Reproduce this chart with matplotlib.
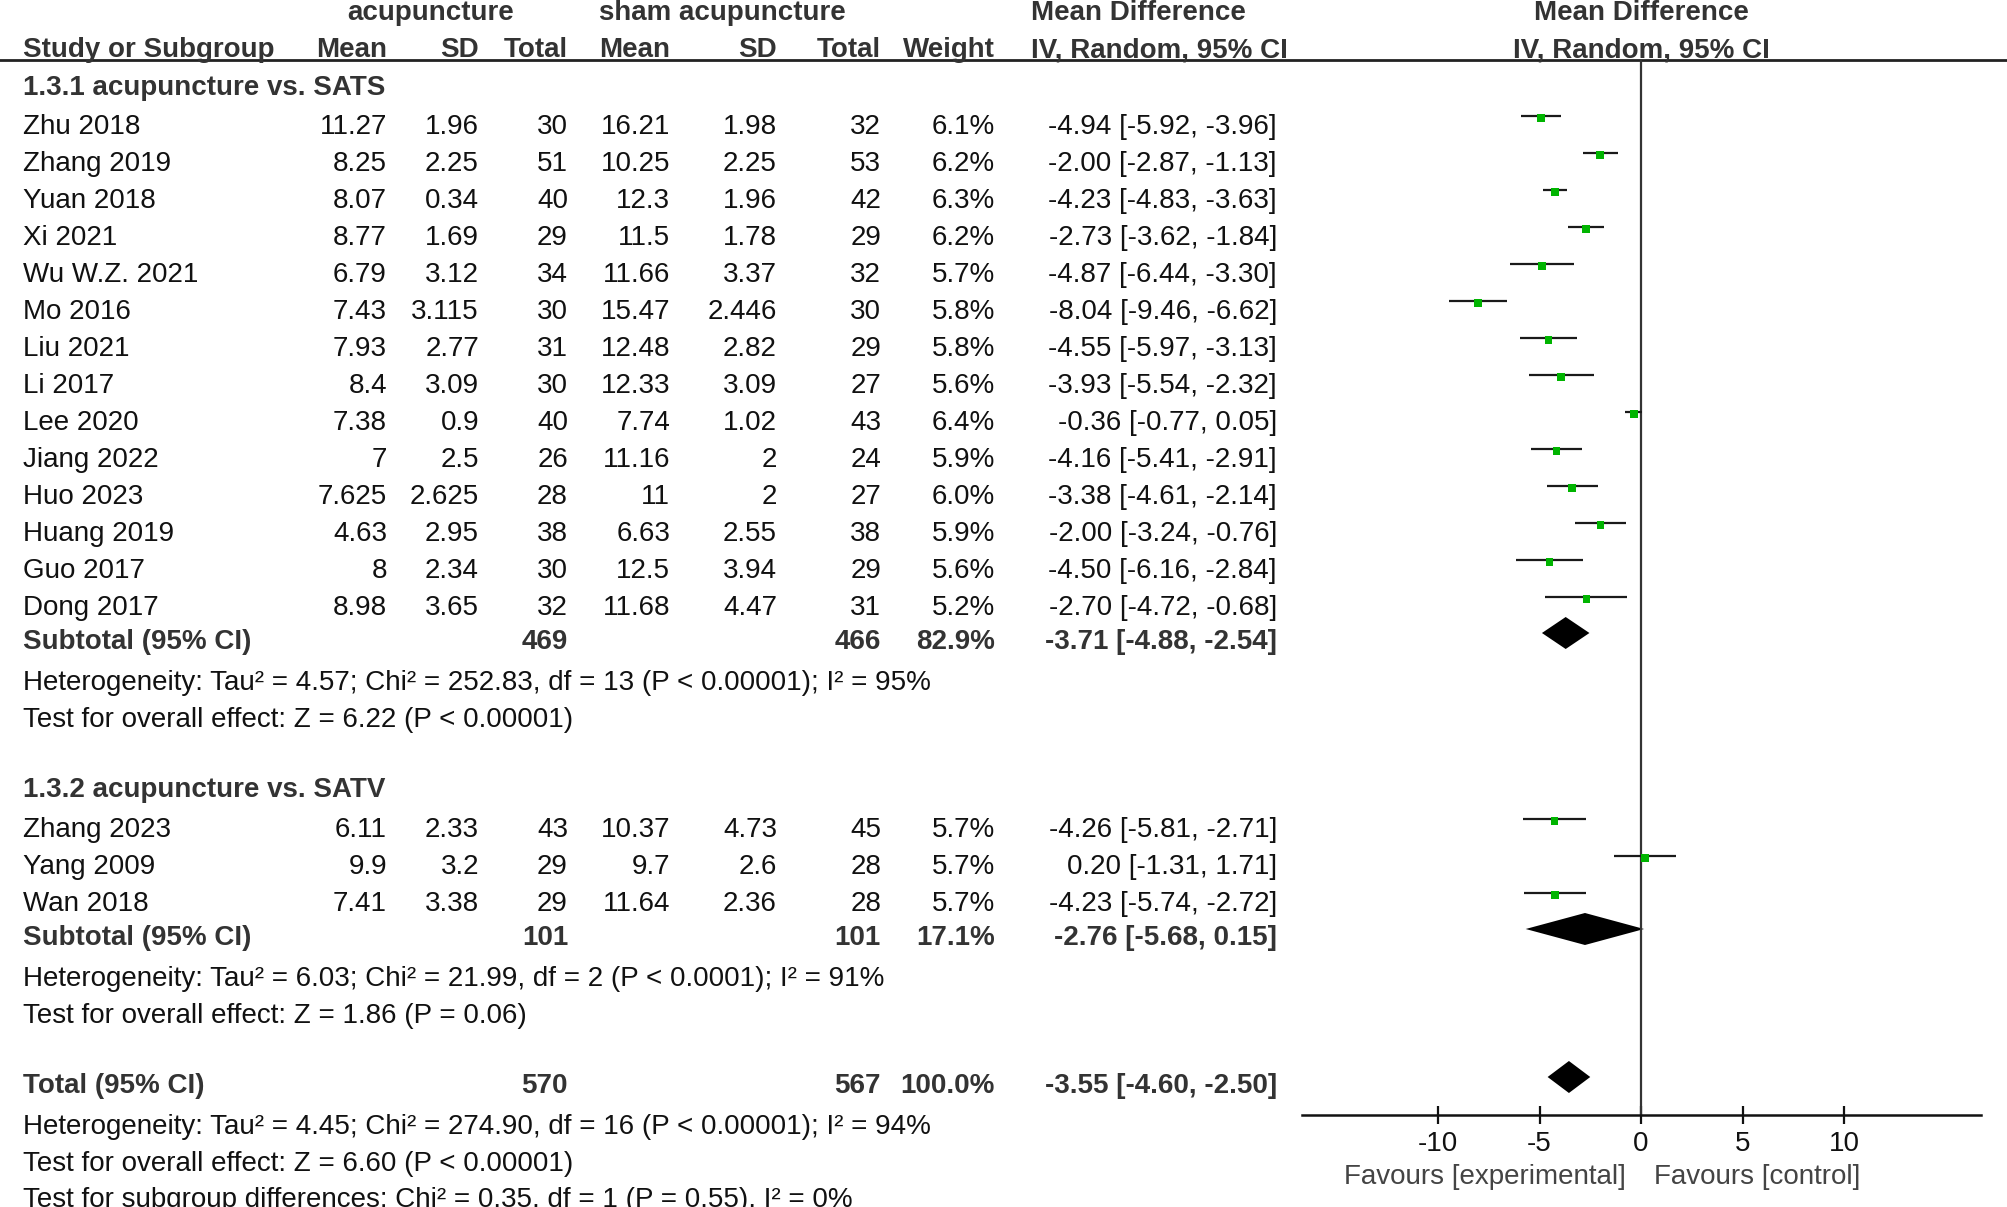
import matplotlib
matplotlib.use('Agg')
import matplotlib.pyplot as plt
from matplotlib.patches import Polygon

plt.rcParams['font.family'] = ['Liberation Sans', 'DejaVu Sans']
plt.rcParams['axes.unicode_minus'] = False

# subgroup 1.3.1 acupuncture vs. SATS
studies_a = ["Zhu 2018", "Zhang 2019", "Yuan 2018", "Xi 2021", "Wu W.Z. 2021", "Mo 2016", "Liu 2021",
             "Li 2017", "Lee 2020", "Jiang 2022", "Huo 2023", "Huang 2019", "Guo 2017", "Dong 2017"]
exp_mean_a = [11.27, 8.25, 8.07, 8.77, 6.79, 7.43, 7.93, 8.4, 7.38, 7, 7.625, 4.63, 8, 8.98]
exp_sd_a = [1.96, 2.25, 0.34, 1.69, 3.12, 3.115, 2.77, 3.09, 0.9, 2.5, 2.625, 2.95, 2.34, 3.65]
exp_n_a = [30, 51, 40, 29, 34, 30, 31, 30, 40, 26, 28, 38, 30, 32]
ctl_mean_a = [16.21, 10.25, 12.3, 11.5, 11.66, 15.47, 12.48, 12.33, 7.74, 11.16, 11, 6.63, 12.5, 11.68]
ctl_sd_a = [1.98, 2.25, 1.96, 1.78, 3.37, 2.446, 2.82, 3.09, 1.02, 2, 2, 2.55, 3.94, 4.47]
ctl_n_a = [32, 53, 42, 29, 32, 30, 29, 27, 43, 24, 27, 38, 29, 31]
weight_a = [6.1, 6.2, 6.3, 6.2, 5.7, 5.8, 5.8, 5.6, 6.4, 5.9, 6.0, 5.9, 5.6, 5.2]
md_a = [-4.94, -2.00, -4.23, -2.73, -4.87, -8.04, -4.55, -3.93, -0.36, -4.16, -3.38, -2.00, -4.50, -2.70]
lo_a = [-5.92, -2.87, -4.83, -3.62, -6.44, -9.46, -5.97, -5.54, -0.77, -5.41, -4.61, -3.24, -6.16, -4.72]
hi_a = [-3.96, -1.13, -3.63, -1.84, -3.30, -6.62, -3.13, -2.32, 0.05, -2.91, -2.14, -0.76, -2.84, -0.68]
sub_a = {"n_exp": 469, "n_ctl": 466, "weight": 82.9, "md": -3.71, "lo": -4.88, "hi": -2.54}
het_a = "Heterogeneity: Tau² = 4.57; Chi² = 252.83, df = 13 (P < 0.00001); I² = 95%"
eff_a = "Test for overall effect: Z = 6.22 (P < 0.00001)"

# subgroup 1.3.2 acupuncture vs. SATV
studies_b = ["Zhang 2023", "Yang 2009", "Wan 2018"]
exp_mean_b = [6.11, 9.9, 7.41]
exp_sd_b = [2.33, 3.2, 3.38]
exp_n_b = [43, 29, 29]
ctl_mean_b = [10.37, 9.7, 11.64]
ctl_sd_b = [4.73, 2.6, 2.36]
ctl_n_b = [45, 28, 28]
weight_b = [5.7, 5.7, 5.7]
md_b = [-4.26, 0.20, -4.23]
lo_b = [-5.81, -1.31, -5.74]
hi_b = [-2.71, 1.71, -2.72]
sub_b = {"n_exp": 101, "n_ctl": 101, "weight": 17.1, "md": -2.76, "lo": -5.68, "hi": 0.15}
het_b = "Heterogeneity: Tau² = 6.03; Chi² = 21.99, df = 2 (P < 0.0001); I² = 91%"
eff_b = "Test for overall effect: Z = 1.86 (P = 0.06)"

total = {"n_exp": 570, "n_ctl": 567, "weight": 100.0, "md": -3.55, "lo": -4.60, "hi": -2.50}
total_notes = ["Heterogeneity: Tau² = 4.45; Chi² = 274.90, df = 16 (P < 0.00001); I² = 94%",
               "Test for overall effect: Z = 6.60 (P < 0.00001)",
               "Test for subgroup differences: Chi² = 0.35, df = 1 (P = 0.55), I² = 0%"]

ticks = [-10, -5, 0, 5, 10]

# layout (figure pixels, y from top)
W, H = 2007, 1207
FS = 20
TXT = '#111111'
BOLD = '#333333'
col_study = 23
col_r = [387, 479, 568, 670, 777, 881, 995, 1277]
zero_px, unit_px = 1641, 20.3
axis_y, rule_y = 1115, 60
dy = 2  # text nudge
rows_a = [125 + 37 * i for i in range(len(studies_a))]
rows_b = [828 + 37 * i for i in range(len(studies_b))]

fig = plt.figure(figsize=(W / 100, H / 100), dpi=100)
ax = fig.add_axes([0, 0, 1, 1])
ax.set_xlim(0, W)
ax.set_ylim(H, 0)
ax.axis('off')

xmin = (1302 - zero_px) / unit_px
xmax = (1981 - zero_px) / unit_px
fp = fig.add_axes([1302 / W, (H - axis_y) / H, (1981 - 1302) / W, (axis_y - rule_y) / H])
fp.set_xlim(xmin, xmax)
fp.set_ylim(axis_y, rule_y)
fp.patch.set_alpha(0)
for s in ['top', 'left', 'right']:
    fp.spines[s].set_visible(False)
fp.spines['bottom'].set_linewidth(1.8)
fp.spines['bottom'].set_color('#111')
fp.set_yticks([])
fp.set_xticks(ticks)
fp.set_xticklabels([str(t) for t in ticks], fontsize=FS, color=TXT)
fp.tick_params(axis='x', direction='inout', length=13, width=1.6, pad=5, color='#111')
fp.axvline(0, color='#333', lw=1.6)


def txt(x, y, s, ha='left', bold=False, **kw):
    ax.text(x, y + dy, s, ha=ha, va='center', fontsize=FS, color=BOLD if bold else TXT,
            fontweight='bold' if bold else 'normal', **kw)


def fmt_ci(m, l, h):
    return f"{m:.2f} [{l:.2f}, {h:.2f}]"


# header
txt(431, 11, "acupuncture", ha='center', bold=True)
txt(722, 11, "sham acupuncture", ha='center', bold=True)
txt(1031, 11, "Mean Difference", bold=True)
txt(zero_px, 11, "Mean Difference", ha='center', bold=True)
txt(col_study, 48, "Study or Subgroup", bold=True)
for x, s in zip(col_r[:7], ["Mean", "SD", "Total", "Mean", "SD", "Total", "Weight"]):
    txt(x, 48, s, ha='right', bold=True)
txt(1031, 48, "IV, Random, 95% CI", bold=True)
txt(zero_px, 48, "IV, Random, 95% CI", ha='center', bold=True)
ax.axhline(rule_y, color='#222', lw=2)


def study_rows(rows, names, em, es, en, cm, cs, cn, w, md, lo, hi):
    for i, y in enumerate(rows):
        txt(col_study, y, names[i])
        vals = [f"{em[i]:g}", f"{es[i]:g}", str(en[i]), f"{cm[i]:g}", f"{cs[i]:g}", str(cn[i]),
                f"{w[i]:.1f}%", fmt_ci(md[i], lo[i], hi[i])]
        for x, s in zip(col_r, vals):
            txt(x, y, s, ha='right')
    yy = [y - 9 for y in rows]
    fp.hlines(yy, lo, hi, color='#1a1a1a', lw=1.6, clip_on=False)
    fp.scatter(md, [y + 2 for y in yy], s=[(5.6 ** 2) * wi / 6.0 for wi in w], marker='s',
               color='#00b400', linewidths=0, zorder=3, clip_on=False)


def subtotal_row(y, label, d):
    txt(col_study, y, label, bold=True)
    for x, s in zip([col_r[2], col_r[5], col_r[6], col_r[7]],
                    [str(d["n_exp"]), str(d["n_ctl"]), f"{d['weight']:.1f}%",
                     fmt_ci(d["md"], d["lo"], d["hi"])]):
        txt(x, y, s, ha='right', bold=True)
    yc = y - 7
    fp.add_patch(Polygon([(d["lo"], yc), (d["md"], yc - 16), (d["hi"], yc), (d["md"], yc + 16)],
                         closed=True, color='black', lw=0, clip_on=False))


txt(col_study, 86, "1.3.1 acupuncture vs. SATS", bold=True)
study_rows(rows_a, studies_a, exp_mean_a, exp_sd_a, exp_n_a, ctl_mean_a, ctl_sd_a, ctl_n_a,
           weight_a, md_a, lo_a, hi_a)
subtotal_row(640, "Subtotal (95% CI)", sub_a)
txt(col_study, 681, het_a)
txt(col_study, 718, eff_a)

txt(col_study, 788, "1.3.2 acupuncture vs. SATV", bold=True)
study_rows(rows_b, studies_b, exp_mean_b, exp_sd_b, exp_n_b, ctl_mean_b, ctl_sd_b, ctl_n_b,
           weight_b, md_b, lo_b, hi_b)
subtotal_row(936, "Subtotal (95% CI)", sub_b)
txt(col_study, 977, het_b)
txt(col_study, 1014, eff_b)

subtotal_row(1084, "Total (95% CI)", total)
for y, s in zip([1125, 1162, 1198], total_notes):
    txt(col_study, y, s)

ax.text(1626, 1177, "Favours [experimental]", ha='right', va='center', fontsize=FS, color='#444')
ax.text(1654, 1177, "Favours [control]", ha='left', va='center', fontsize=FS, color='#444')

fig.savefig('out.png', dpi=100)
